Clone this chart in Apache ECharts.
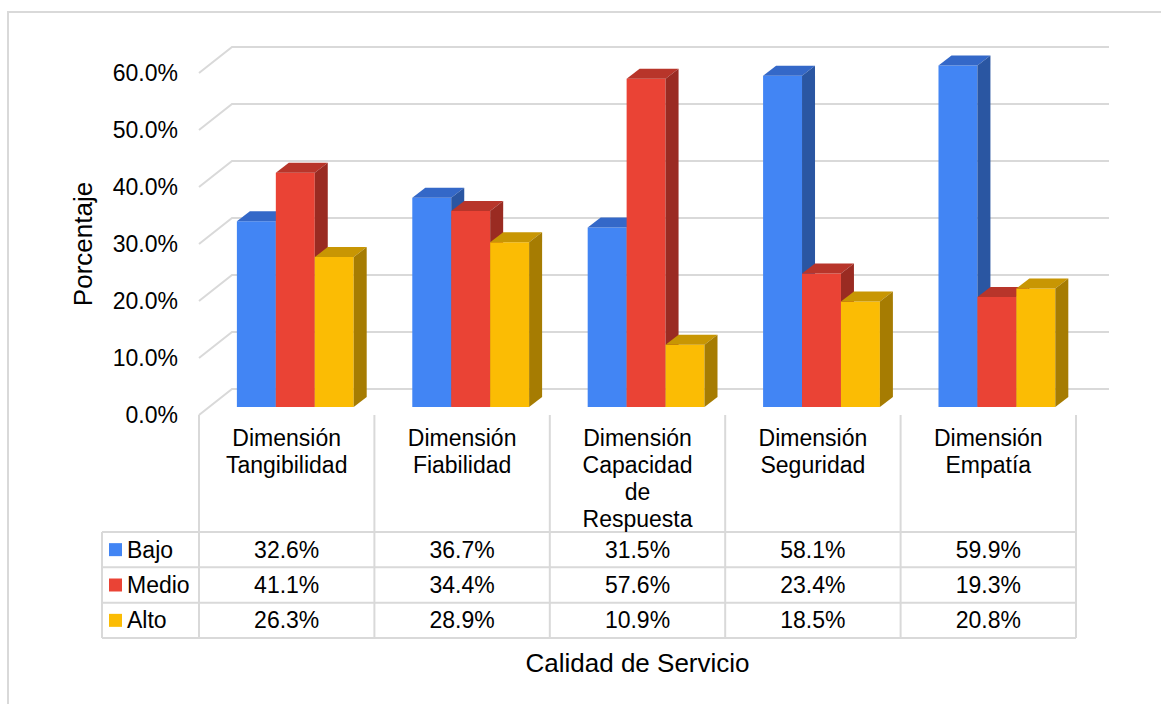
<!DOCTYPE html>
<html>
<head>
<meta charset="utf-8">
<title>Calidad de Servicio</title>
<script src="https://cdn.jsdelivr.net/npm/echarts@6/dist/echarts.min.js"></script>
<style>
  html, body { margin: 0; padding: 0; background: #ffffff; }
  #chart { width: 1161px; height: 704px; }
</style>
</head>
<body>
<div id="chart"></div>
<script>
// Categories (dimensions) and the three levels of each
const categories = [
  'Dimensión Tangibilidad',
  'Dimensión Fiabilidad',
  'Dimensión Capacidad de Respuesta',
  'Dimensión Seguridad',
  'Dimensión Empatía'
];
const levels = ['Bajo', 'Medio', 'Alto'];
const bajo  = [32.6, 36.7, 31.5, 58.1, 59.9];
const medio = [41.1, 34.4, 57.6, 23.4, 19.3];
const alto  = [26.3, 28.9, 10.9, 18.5, 20.8];
const yTicks = [0, 10, 20, 30, 40, 50, 60];

const seriesValues = [bajo, medio, alto];
// front / top / side shades for each level
const palette = [
  { front: '#4285F4', top: '#3468C8', side: '#2A56A2' },
  { front: '#EA4335', top: '#B8352A', side: '#9A2B22' },
  { front: '#FBBC04', top: '#C89603', side: '#A67C02' }
];

// Layout of the front plane of the 3D box (pixel)
const G = { left: 199, right: 85, top: 73, bottom: 289 };
const W = 1161, H = 704;
const frontLeft = G.left, frontRight = W - G.right, floorY = H - G.bottom;
const WALL_DX = 33, WALL_DY = -26;   // depth of the box (back wall offset)
const BAR_DX = 10, BAR_DY = -8;      // bars stand slightly behind the front plane
const DEPTH_DX = 13, DEPTH_DY = -10; // thickness of each bar

const FONT = '"Liberation Sans", Arial, sans-serif';
const LABEL_SIZE = 23;
const TITLE_SIZE = 26;
const GRID_COLOR = '#d9d9d9';

// Back wall gridlines with their slanted floor-side segments
function renderGrid(params, api) {
  const cs = params.coordSys;
  const children = [];
  yTicks.forEach(function (v) {
    const y = api.coord([0, v])[1];
    const xl = cs.x, xr = cs.x + cs.width;
    children.push({
      type: 'polyline',
      shape: { points: [[xl, y], [xl + WALL_DX, y + WALL_DY], [xr + WALL_DX, y + WALL_DY]] },
      style: { stroke: GRID_COLOR, lineWidth: 2, fill: 'none' },
      silent: true
    });
  });
  return { type: 'group', children: children };
}

// A 3D column: front face, top face and right side face
function makeBarRenderer(k) {
  const c = palette[k];
  return function (params, api) {
    const i = api.value(0), v = api.value(1);
    const base = api.coord([i, 0]);
    const tip = api.coord([i, v]);
    const band = api.size([1, 0])[0];
    const bw = band * 0.222;
    const x0 = base[0] - 0.284 * band + k * bw;
    const yb = base[1] + BAR_DY;
    const yt = tip[1] + BAR_DY;
    const x1 = x0 + bw;
    return {
      type: 'group',
      children: [
        { type: 'rect', shape: { x: x0, y: yt, width: bw, height: yb - yt }, style: { fill: c.front } },
        { type: 'polygon', shape: { points: [[x0, yt], [x0 + DEPTH_DX, yt + DEPTH_DY], [x1 + DEPTH_DX, yt + DEPTH_DY], [x1, yt]] }, style: { fill: c.top } },
        { type: 'polygon', shape: { points: [[x1, yt], [x1 + DEPTH_DX, yt + DEPTH_DY], [x1 + DEPTH_DX, yb + DEPTH_DY], [x1, yb]] }, style: { fill: c.side } }
      ]
    };
  };
}

// Data table below the plot
const band = (frontRight - frontLeft) / categories.length;
const tableLeft = 102;
const rowTops = [532, 567.3, 602.7, 638];
const graphics = [];
function line(x1, y1, x2, y2) {
  graphics.push({ type: 'line', silent: true, shape: { x1: x1, y1: y1, x2: x2, y2: y2 },
    style: { stroke: GRID_COLOR, lineWidth: 2 } });
}
// outer frame
graphics.push({ type: 'rect', silent: true, shape: { x: 8, y: 12, width: 1200, height: 760 },
  style: { fill: 'none', stroke: GRID_COLOR, lineWidth: 2 } });
for (let c = 0; c <= categories.length; c++) {
  const x = frontLeft + c * band;
  line(x, floorY, x, rowTops[rowTops.length - 1]);
}
line(tableLeft, rowTops[0], tableLeft, rowTops[rowTops.length - 1]);
rowTops.forEach(function (y) { line(tableLeft, y, frontRight, y); });

levels.forEach(function (name, r) {
  const yc = (rowTops[r] + rowTops[r + 1]) / 2;
  graphics.push({ type: 'rect', silent: true, shape: { x: 109, y: yc - 6.5, width: 13, height: 13 },
    style: { fill: palette[r].front } });
  graphics.push({ type: 'text', silent: true, x: 127, y: yc,
    style: { text: name, font: LABEL_SIZE + 'px ' + FONT, fill: '#000', textAlign: 'left', textVerticalAlign: 'middle' } });
  seriesValues[r].forEach(function (v, i) {
    graphics.push({ type: 'text', silent: true, x: frontLeft + (i + 0.5) * band, y: yc,
      style: { text: v.toFixed(1) + '%', font: LABEL_SIZE + 'px ' + FONT, fill: '#000', textAlign: 'center', textVerticalAlign: 'middle' } });
  });
});

const chart = echarts.init(document.getElementById('chart'), null, { renderer: 'svg' });

const series = [{
  type: 'custom',
  renderItem: renderGrid,
  data: [[0, 0]],
  silent: true,
  z: 1
}];
seriesValues.forEach(function (vals, k) {
  series.push({
    type: 'custom',
    name: levels[k],
    renderItem: makeBarRenderer(k),
    data: vals.map(function (v, i) { return [i, v]; }),
    encode: { x: 0, y: 1 },
    z: 2 + k
  });
});

chart.setOption({
  animation: false,
  backgroundColor: '#ffffff',
  grid: { left: G.left, right: G.right, top: G.top, bottom: G.bottom, containLabel: false },
  xAxis: {
    type: 'category',
    data: categories,
    name: 'Calidad de Servicio',
    nameLocation: 'middle',
    nameGap: 235,
    nameTextStyle: { fontSize: TITLE_SIZE, fontFamily: FONT, color: '#000' },
    axisLine: { show: false },
    axisTick: { show: false },
    splitLine: { show: false },
    axisLabel: {
      interval: 0,
      margin: 9,
      fontSize: LABEL_SIZE,
      lineHeight: 27,
      fontFamily: FONT,
      color: '#000',
      align: 'center',
      formatter: function (s) { return s.split(' ').join('\n'); }
    }
  },
  yAxis: {
    type: 'value',
    min: 0,
    max: 60,
    interval: 10,
    name: 'Porcentaje',
    nameLocation: 'middle',
    nameRotate: 90,
    nameGap: 103,
    nameTextStyle: { fontSize: TITLE_SIZE, fontFamily: FONT, color: '#000' },
    axisLine: { show: false },
    axisTick: { show: false },
    splitLine: { show: false },
    axisLabel: {
      margin: 21,
      fontSize: LABEL_SIZE,
      fontFamily: FONT,
      color: '#000',
      formatter: function (v) { return v.toFixed(1) + '%'; }
    }
  },
  graphic: graphics,
  series: series
});
</script>
</body>
</html>
